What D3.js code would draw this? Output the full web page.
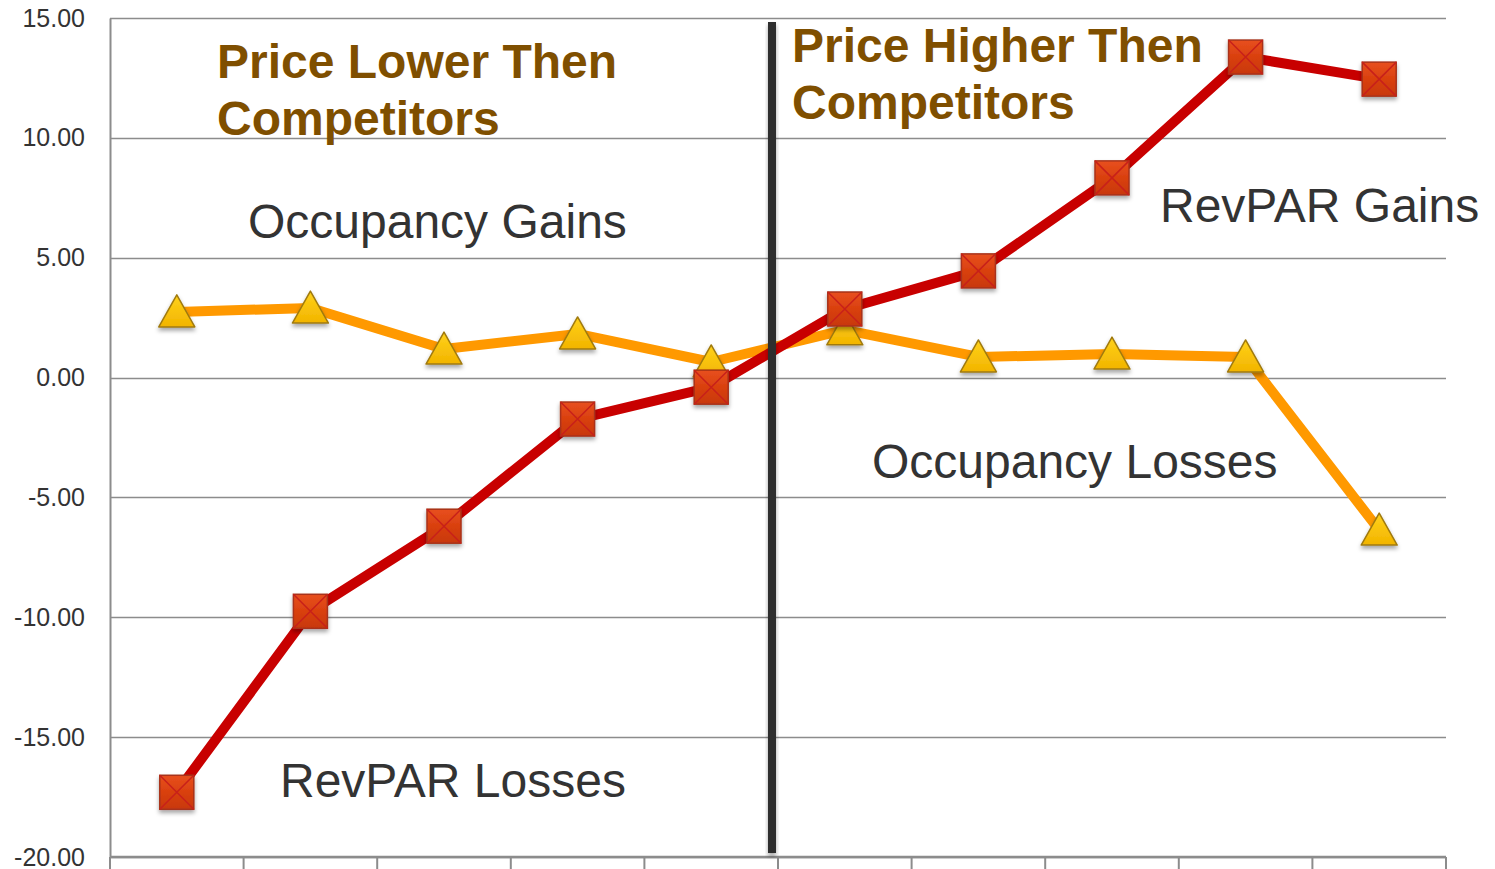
<!DOCTYPE html>
<html>
<head>
<meta charset="utf-8">
<script src="https://cdn.jsdelivr.net/npm/d3@7"></script>
<style>
  body { margin: 0; background: #fff; }
  svg { display: block; font-family: "Liberation Sans", Arial, sans-serif; }
</style>
</head>
<body>
<svg id="chart" width="1495" height="869"></svg>
<script>
// Chart data
const categories = [1, 2, 3, 4, 5, 6, 7, 8, 9, 10];
const revparValues = [-17.3, -9.75, -6.2, -1.73, -0.4, 2.86, 4.45, 8.33, 13.37, 12.45];
const occupancyValues = [2.74, 2.9, 1.19, 1.82, 0.65, 1.99, 0.86, 0.98, 0.86, -6.36];
const yTicks = [15, 10, 5, 0, -5, -10, -15, -20];

const svg = d3.select("#chart");
const margin = { left: 110, right: 49, top: 18, bottom: 12 };
const width = +svg.attr("width");
const height = +svg.attr("height");

const x = d3.scaleBand()
  .domain(categories)
  .range([margin.left, width - margin.right]);

const y = d3.scaleLinear()
  .domain([-20, 15])
  .range([height - margin.bottom, margin.top]);

const cx = d => x(d) + x.bandwidth() / 2;

// Defs: gradients and shadow
const defs = svg.append("defs");
const sq = defs.append("linearGradient").attr("id", "sqGrad")
  .attr("x1", 0).attr("y1", 0).attr("x2", 0).attr("y2", 1);
sq.append("stop").attr("offset", "0%").attr("stop-color", "#e8501e");
sq.append("stop").attr("offset", "50%").attr("stop-color", "#d9400f");
sq.append("stop").attr("offset", "100%").attr("stop-color", "#c8380c");

const tri = defs.append("linearGradient").attr("id", "triGrad")
  .attr("x1", 0).attr("y1", 0).attr("x2", 0).attr("y2", 1);
tri.append("stop").attr("offset", "0%").attr("stop-color", "#ffd21a");
tri.append("stop").attr("offset", "100%").attr("stop-color", "#f2b400");

const shadow = defs.append("filter").attr("id", "shadow")
  .attr("x", "-30%").attr("y", "-30%").attr("width", "160%").attr("height", "170%");
shadow.append("feDropShadow")
  .attr("dx", 0).attr("dy", 3).attr("stdDeviation", 2)
  .attr("flood-color", "#000").attr("flood-opacity", 0.35);

// Grid lines
svg.append("g")
  .selectAll("line")
  .data(yTicks)
  .join("line")
  .attr("x1", margin.left)
  .attr("x2", width - margin.right)
  .attr("y1", d => Math.round(y(d)) + 0.5)
  .attr("y2", d => Math.round(y(d)) + 0.5)
  .attr("stroke", "#8c8c8c")
  .attr("stroke-width", 1.5);

// Y axis
const fmt = d => d3.format(".2f")(d).replace("\u2212", "-");
const yAxis = svg.append("g")
  .attr("transform", `translate(${margin.left},0)`)
  .call(d3.axisLeft(y).tickValues(yTicks).tickFormat(fmt).tickSize(0).tickPadding(25));
yAxis.select(".domain").attr("stroke", "#8c8c8c").attr("stroke-width", 2);
yAxis.selectAll("text")
  .attr("font-size", 25)
  .attr("fill", "#333")
  .attr("font-family", "Liberation Sans, Arial, sans-serif");

// X axis (ticks only, no labels)
const xAxis = svg.append("g")
  .attr("transform", `translate(0,${y(-20)})`);
xAxis.append("line")
  .attr("x1", margin.left).attr("x2", width - margin.right)
  .attr("stroke", "#8c8c8c").attr("stroke-width", 2.5);
xAxis.selectAll("line.tick")
  .data(categories.concat(["end"]))
  .join("line")
  .attr("class", "tick")
  .attr("x1", d => d === "end" ? width - margin.right : x(d))
  .attr("x2", d => d === "end" ? width - margin.right : x(d))
  .attr("y1", 0).attr("y2", 14)
  .attr("stroke", "#8c8c8c").attr("stroke-width", 2);

const line = d3.line()
  .x((d, i) => cx(categories[i]))
  .y(d => y(d));

// Occupancy series
svg.append("path")
  .datum(occupancyValues)
  .attr("d", line)
  .attr("fill", "none")
  .attr("stroke", "#ff9900")
  .attr("stroke-width", 10)
  .attr("stroke-linejoin", "round");

svg.append("g")
  .selectAll("path")
  .data(occupancyValues)
  .join("path")
  .attr("transform", (d, i) => `translate(${cx(categories[i])},${y(d)})`)
  .attr("d", "M0,-17 L18,15 L-18,15 Z")
  .attr("fill", "url(#triGrad)")
  .attr("stroke", "#a07a10")
  .attr("stroke-width", 1.5)
  .attr("stroke-linejoin", "round")
  .attr("filter", "url(#shadow)");

// RevPAR series
svg.append("path")
  .datum(revparValues)
  .attr("d", line)
  .attr("fill", "none")
  .attr("stroke", "#c80000")
  .attr("stroke-width", 10)
  .attr("stroke-linejoin", "round");

const sqG = svg.append("g")
  .selectAll("g")
  .data(revparValues)
  .join("g")
  .attr("transform", (d, i) => `translate(${cx(categories[i])},${y(d)})`);
sqG.append("rect")
  .attr("x", -17).attr("y", -17).attr("width", 34).attr("height", 34)
  .attr("fill", "url(#sqGrad)")
  .attr("stroke", "#a8321a")
  .attr("stroke-width", 1.5)
  .attr("filter", "url(#shadow)");
sqG.append("path")
  .attr("d", "M-17,-17 L17,17 M17,-17 L-17,17")
  .attr("stroke", "#c8201a")
  .attr("stroke-width", 1.5);

// Divider (rect so the shadow filter has a real box)
svg.append("rect")
  .attr("x", 768).attr("width", 8)
  .attr("y", 22).attr("height", 831)
  .attr("fill", "#2d2d2d")
  .attr("filter", "url(#shadow)");

// Annotations
const heads = [
  { x: 217, y: 78, t: "Price Lower Then" },
  { x: 217, y: 135, t: "Competitors" },
  { x: 792, y: 62, t: "Price Higher Then" },
  { x: 792, y: 119, t: "Competitors" }
];
svg.append("g")
  .selectAll("text")
  .data(heads)
  .join("text")
  .attr("x", d => d.x).attr("y", d => d.y)
  .attr("font-size", 48)
  .attr("font-weight", "bold")
  .attr("fill", "#7f4f00")
  .text(d => d.t);

const notes = [
  { x: 248, y: 238, t: "Occupancy Gains" },
  { x: 1160, y: 222, t: "RevPAR Gains" },
  { x: 872, y: 478, t: "Occupancy Losses" },
  { x: 280, y: 797, t: "RevPAR Losses" }
];
svg.append("g")
  .selectAll("text")
  .data(notes)
  .join("text")
  .attr("x", d => d.x).attr("y", d => d.y)
  .attr("font-size", 48)
  .attr("fill", "#333")
  .text(d => d.t);
</script>
</body>
</html>
